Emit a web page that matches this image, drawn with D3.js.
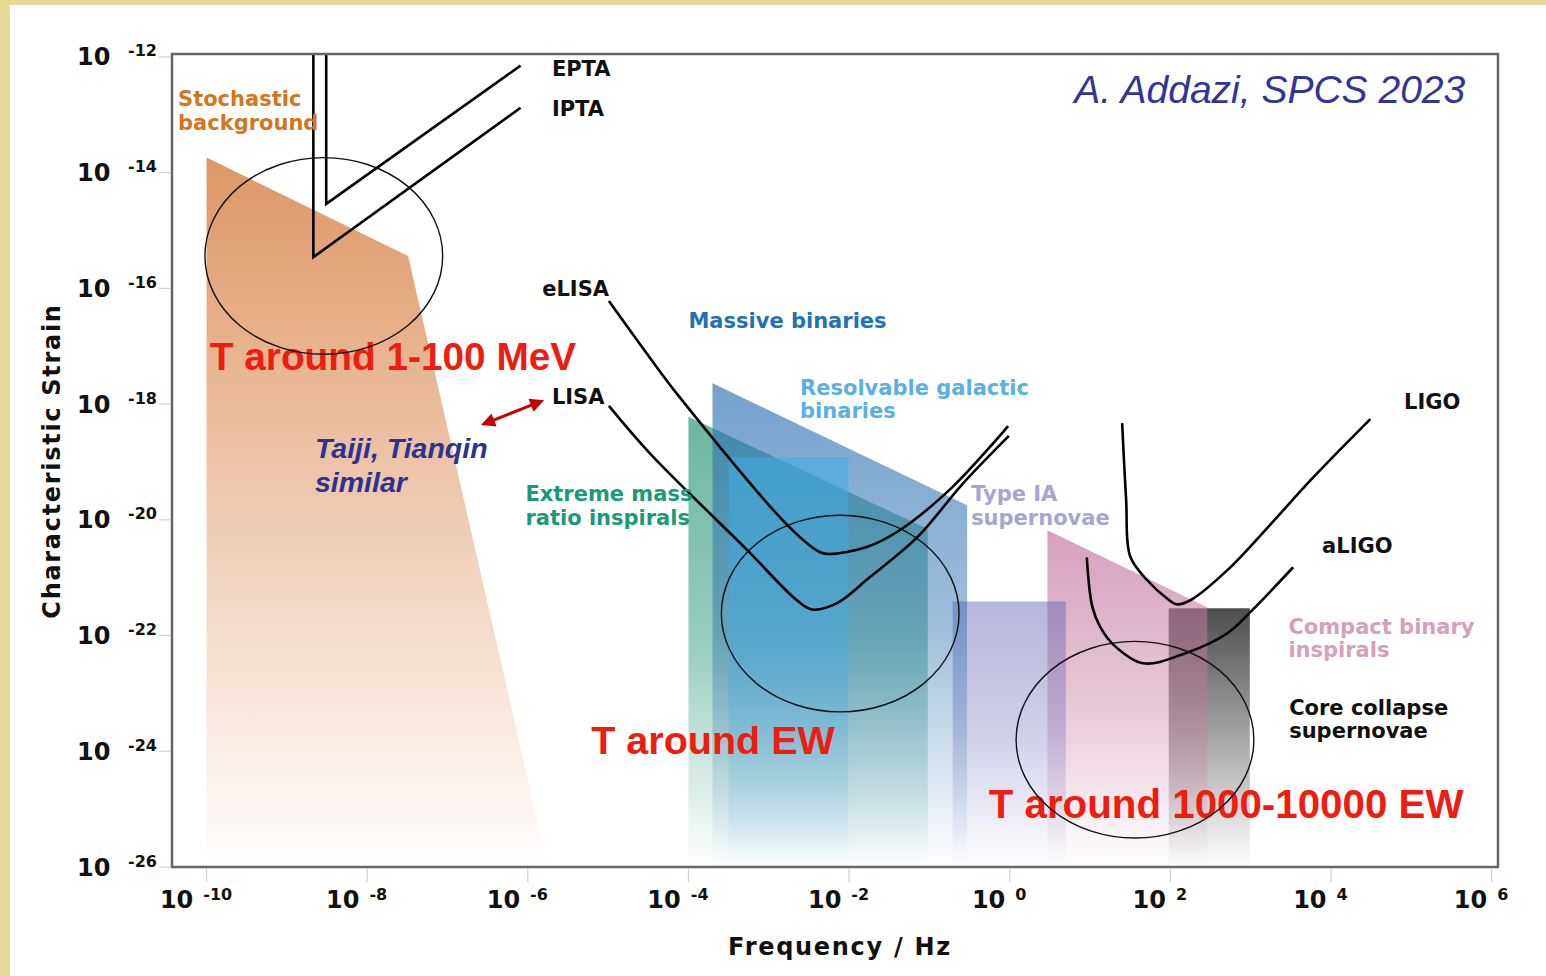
<!DOCTYPE html>
<html>
<head>
<meta charset="utf-8">
<script src="https://cdn.jsdelivr.net/npm/d3@7"></script>
<style>
  body { margin: 0; background: #fff; }
  svg text { font-family: "DejaVu Sans", sans-serif; font-weight: bold; }
</style>
</head>
<body>
<div id="chart"></div>
<script>
// All values are log10 exponents: [log10 f (Hz), log10 h]
const xTicks = [-10, -8, -6, -4, -2, 0, 2, 4, 6];
const yTicks = [-12, -14, -16, -18, -20, -22, -24, -26];

// detector sensitivity curves
const epta  = [[-8.51, -11.96], [-8.51, -14.54], [-6.09, -12.15]];
const ipta  = [[-8.67, -11.96], [-8.67, -15.46], [-6.09, -12.88]];
const elisa = [[-4.99, -16.22], [-4.48, -17.20], [-4.11, -17.88], [-2.74, -20.13], [-2.36, -20.56],
               [-2.24, -20.59], [-1.78, -20.47], [-1.37, -20.18], [-0.71, -19.43], [-0.02, -18.38]];
const lisa  = [[-4.99, -18.03], [-4.48, -18.85], [-3.27, -20.52], [-2.65, -21.39], [-2.46, -21.55],
               [-2.15, -21.44], [-1.74, -20.99], [-1.15, -20.30], [-0.58, -19.37], [-0.01, -18.55]];
const ligo  = [[1.40, -18.33], [1.45, -19.66], [1.50, -20.63], [1.71, -21.04], [1.96, -21.36],
               [2.08, -21.46], [2.25, -21.39], [2.71, -20.87], [3.24, -20.09], [3.75, -19.31], [4.49, -18.26]];
const aligo = [[0.96, -20.65], [1.03, -21.51], [1.13, -21.86], [1.30, -22.17], [1.66, -22.48],
               [2.18, -22.31], [2.71, -21.96], [3.02, -21.56], [3.53, -20.82]];

// source regions
const stochastic   = [[-10.0, -13.74], [-7.49, -15.44], [-5.75, -26], [-10.0, -26]];
const coreCollapse = [[1.98, -21.53], [2.99, -21.53], [2.99, -26], [1.98, -26]];
const compact      = [[0.47, -20.18], [2.46, -21.51], [2.46, -26], [0.47, -26]];
const typeIA       = [[-0.71, -21.41], [0.70, -21.41], [0.70, -26], [-0.71, -26]];
const emri         = [[-4.0, -18.22], [-1.02, -20.16], [-1.02, -26], [-4.0, -26]];
const massive      = [[-3.70, -17.64], [-0.53, -19.75], [-0.53, -26], [-3.70, -26]];
const resolvable   = [[-3.50, -18.92], [-2.01, -18.92], [-2.01, -26], [-3.50, -26]];

// circled temperature windows: centre [log f, log h], radii in decades
const circles = [[-8.54, -15.44], [-2.11, -21.62], [1.56, -23.80]];
const circleRadius = [1.48, 1.70];

const W = 1546, H = 976;

const svg = d3.select("#chart").append("svg")
    .attr("width", W)
    .attr("height", H);

// khaki slide border
svg.append("rect").attr("width", W).attr("height", H).attr("fill", "#e6da98");
svg.append("rect").attr("x", 10).attr("y", 5).attr("width", W - 10).attr("height", H - 5).attr("fill", "#fff");

const x = d3.scaleLinear().domain([-10.43, 6.08]).range([172, 1498]);
const y = d3.scaleLinear().domain([-26, -11.95]).range([867, 54]);

const defs = svg.append("defs");
defs.append("clipPath").attr("id", "plot")
  .append("rect")
    .attr("x", x(-10.43)).attr("y", y(-11.95))
    .attr("width", x(6.08) - x(-10.43)).attr("height", y(-26) - y(-11.95));

const regions = [
  { id: "stoch",   pts: stochastic,   color: "#d9844a", a: 0.85, mid: 0.5 },
  { id: "core",    pts: coreCollapse, color: "#444444", a: 0.95, mid: 0.5 },
  { id: "compact", pts: compact,      color: "#c5789f", a: 0.7,  mid: 0.6 },
  { id: "typeia",  pts: typeIA,       color: "#5a5eb0", a: 0.45, mid: 0.65 },
  { id: "emri",    pts: emri,         color: "#1a9070", a: 0.65, mid: 0.7 },
  { id: "massive", pts: massive,      color: "#2a6fb0", a: 0.65, mid: 0.7 },
  { id: "resolv",  pts: resolvable,   color: "#42aae6", a: 0.58, mid: 0.7 }
];

regions.forEach(r => {
  const g = defs.append("linearGradient")
      .attr("id", "grad-" + r.id)
      .attr("x1", 0).attr("y1", 0).attr("x2", 0).attr("y2", 1);
  g.append("stop").attr("offset", 0).attr("stop-color", r.color).attr("stop-opacity", r.a);
  g.append("stop").attr("offset", 0.5).attr("stop-color", r.color).attr("stop-opacity", r.a * r.mid);
  g.append("stop").attr("offset", 1).attr("stop-color", r.color).attr("stop-opacity", 0);
});

// arrow heads
defs.append("marker")
    .attr("id", "head")
    .attr("viewBox", "0 0 10 10")
    .attr("refX", 8).attr("refY", 5)
    .attr("markerUnits", "userSpaceOnUse")
    .attr("markerWidth", 17).attr("markerHeight", 14)
    .attr("orient", "auto-start-reverse")
  .append("path")
    .attr("d", "M0,0 L10,5 L0,10 z")
    .attr("fill", "#c40000");

const plot = svg.append("g").attr("clip-path", "url(#plot)");

const area = d3.line().x(d => x(d[0])).y(d => y(d[1])).curve(d3.curveLinearClosed);

plot.selectAll("path.region")
  .data(regions)
  .join("path")
    .attr("class", "region")
    .attr("d", d => area(d.pts))
    .attr("fill", d => `url(#grad-${d.id})`);

// sensitivity curves
const straight = d3.line().x(d => x(d[0])).y(d => y(d[1]));
const smooth = d3.line().x(d => x(d[0])).y(d => y(d[1])).curve(d3.curveCatmullRom.alpha(0.5));

plot.selectAll("path.pta")
  .data([epta, ipta])
  .join("path")
    .attr("class", "pta")
    .attr("d", straight)
    .attr("fill", "none")
    .attr("stroke", "#000")
    .attr("stroke-width", 2.6);

plot.selectAll("path.det")
  .data([elisa, lisa, ligo, aligo])
  .join("path")
    .attr("class", "det")
    .attr("d", smooth)
    .attr("fill", "none")
    .attr("stroke", "#000")
    .attr("stroke-width", 2.6)
    .attr("stroke-linejoin", "round");

// frame
svg.append("rect")
    .attr("x", x(-10.43)).attr("y", y(-11.95))
    .attr("width", x(6.08) - x(-10.43)).attr("height", y(-26) - y(-11.95))
    .attr("fill", "none")
    .attr("stroke", "#666")
    .attr("stroke-width", 2.5);

// ticks
svg.selectAll("line.xt")
  .data(xTicks)
  .join("line")
    .attr("x1", d => x(d)).attr("x2", d => x(d))
    .attr("y1", 869).attr("y2", 882)
    .attr("stroke", "#d0d0d0").attr("stroke-width", 1.2);

svg.selectAll("line.yt")
  .data(yTicks)
  .join("line")
    .attr("x1", 159).attr("x2", 171)
    .attr("y1", d => y(d)).attr("y2", d => y(d))
    .attr("stroke", "#d0d0d0").attr("stroke-width", 1.2);

// tick labels: 10^n
const xl = svg.selectAll("text.xl")
  .data(xTicks)
  .join("text")
    .attr("x", d => x(d) - 10.5)
    .attr("y", 908)
    .attr("text-anchor", "middle")
    .attr("fill", "#111");
xl.append("tspan").style("font-size", "24px").text("10");
xl.append("tspan").attr("dx", 10).attr("dy", -8).style("font-size", "16px").text(d => d);

svg.selectAll("text.yl")
  .data(yTicks)
  .join("text")
    .attr("x", 110.5)
    .attr("y", d => y(d) + 8.6)
    .attr("text-anchor", "end")
    .attr("fill", "#111")
    .style("font-size", "24px")
    .text("10");

svg.selectAll("text.ys")
  .data(yTicks)
  .join("text")
    .attr("x", 128)
    .attr("y", d => y(d) - 0.4)
    .attr("fill", "#111")
    .style("font-size", "16px")
    .text(d => d);

// axis titles
svg.append("text")
    .attr("x", 840).attr("y", 955)
    .attr("text-anchor", "middle")
    .style("font-size", "24px")
    .style("letter-spacing", "1.7px")
    .attr("fill", "#111")
    .text("Frequency / Hz");

svg.append("text")
    .attr("transform", "translate(60,461) rotate(-90)")
    .attr("text-anchor", "middle")
    .style("font-size", "24px")
    .style("letter-spacing", "1.7px")
    .attr("fill", "#111")
    .text("Characteristic Strain");

// labels of curves and sources: [log f, log h] of first baseline
const labels = [
  { lines: ["Stochastic", "background"], at: [-10.355, -12.85], color: "#d4761f" },
  { lines: ["EPTA"], at: [-5.70, -12.33], color: "#111" },
  { lines: ["IPTA"], at: [-5.70, -13.02], color: "#111" },
  { lines: ["eLISA"], at: [-5.82, -16.13], color: "#111" },
  { lines: ["LISA"], at: [-5.70, -18.00], color: "#111" },
  { lines: ["Massive binaries"], at: [-4.00, -16.69], color: "#1f72b5" },
  { lines: ["Resolvable galactic", "binaries"], at: [-2.61, -17.84], color: "#5ab0e6" },
  { lines: ["Extreme mass", "ratio inspirals"], at: [-6.03, -19.68], color: "#1a9a78" },
  { lines: ["Type IA", "supernovae"], at: [-0.48, -19.68], color: "#a5a6d2" },
  { lines: ["LIGO"], at: [4.91, -18.09], color: "#111" },
  { lines: ["aLIGO"], at: [3.89, -20.57], color: "#111" },
  { lines: ["Compact binary", "inspirals"], at: [3.47, -21.97], color: "#d4a0bc" },
  { lines: ["Core collapse", "supernovae"], at: [3.48, -23.37], color: "#111" }
];

const lt = svg.selectAll("text.lab")
  .data(labels)
  .join("text")
    .attr("class", "lab")
    .attr("x", d => x(d.at[0]))
    .attr("y", d => y(d.at[1]))
    .attr("fill", d => d.color)
    .style("font-size", "21px");
lt.selectAll("tspan")
  .data(d => d.lines.map((s, i) => ({ s, i, x: x(d.at[0]) })))
  .join("tspan")
    .attr("x", d => d.x)
    .attr("dy", d => d.i ? 23.5 : 0)
    .text(d => d.s);

// red temperature annotations
const temps = [
  { text: "T around 1-100 MeV", at: [-9.96, -17.41], anchor: "start", size: 38.8 },
  { text: "T around EW", at: [-5.21, -24.05], anchor: "start", size: 39.5 },
  { text: "T around 1000-10000 EW", at: [5.65, -25.15], anchor: "end", size: 40.3 }
];

svg.selectAll("text.temp")
  .data(temps)
  .join("text")
    .attr("x", d => x(d.at[0]))
    .attr("y", d => y(d.at[1]))
    .attr("text-anchor", d => d.anchor)
    .attr("fill", "#ee1d10")
    .style("font-family", "'Liberation Sans', Arial, sans-serif")
    .style("font-size", d => d.size + "px")
    .text(d => d.text);

// circles drawn over the text
svg.selectAll("ellipse")
  .data(circles)
  .join("ellipse")
    .attr("cx", d => x(d[0]))
    .attr("cy", d => y(d[1]))
    .attr("rx", d => x(d[0] + circleRadius[0]) - x(d[0]))
    .attr("ry", d => y(d[1] - circleRadius[1]) - y(d[1]))
    .attr("fill", "none")
    .attr("stroke", "#111")
    .attr("stroke-width", 1.4);

// Taiji / Tianqin note with arrow to LISA
const taiji = svg.append("text")
    .attr("x", x(-8.65)).attr("y", y(-18.93))
    .attr("fill", "#2d3192")
    .style("font-family", "'Liberation Sans', Arial, sans-serif")
    .style("font-style", "italic")
    .style("font-size", "28.5px");
taiji.append("tspan").attr("x", x(-8.65)).text("Taiji, Tianqin");
taiji.append("tspan").attr("x", x(-8.65)).attr("dy", 34).text("similar");

const arrow = [[-6.55, -18.345], [-5.83, -17.95]];
svg.append("path")
    .attr("d", straight(arrow))
    .attr("stroke", "#c40000")
    .attr("stroke-width", 3)
    .attr("marker-start", "url(#head)")
    .attr("marker-end", "url(#head)");

// credit
svg.append("text")
    .attr("x", x(5.672)).attr("y", y(-12.797))
    .attr("text-anchor", "end")
    .attr("fill", "#333399")
    .style("font-family", "'Liberation Sans', Arial, sans-serif")
    .style("font-weight", "normal")
    .style("font-style", "italic")
    .style("font-size", "39px")
    .text("A. Addazi, SPCS 2023");
</script>
</body>
</html>
